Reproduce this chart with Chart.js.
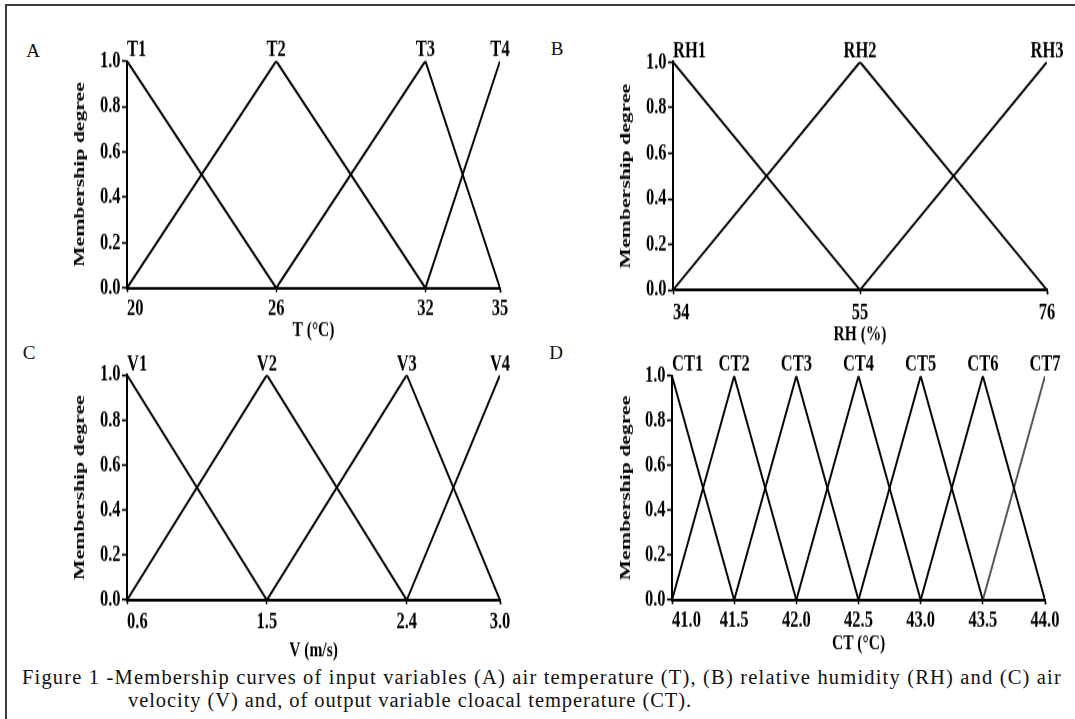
<!DOCTYPE html>
<html lang="en">
<head>
  <meta charset="UTF-8">
  <title>Membership curves</title>
  <style>
    body {
      margin: 0;
      background: #fff;
    }
    #page {
      position: relative;
      width: 1075px;
      height: 719px;
      overflow: hidden;
      background: #fff;
      font-family: 'Liberation Serif', 'Times New Roman', serif;
      color: #111;
    }
    #frame {
      position: absolute;
      left: 5px;
      top: 4px;
      right: -10px;
      bottom: -10px;
      border-top: 2px solid #3c3c3c;
      border-left: 2px solid #3c3c3c;
    }
    .panel {
      position: absolute;
      transform-origin: 0 0;
    }
    .panel canvas {
      display: block;
    }
    .letter {
      position: absolute;
      font-size: 19px;
      line-height: 1;
      transform: translate(-50%, -50%);
    }
    .caption {
      position: absolute;
      font-size: 20.5px;
      line-height: 1;
      white-space: nowrap;
      transform: translateY(-50%);
    }
  </style>
</head>
<body>
  <div id="page">
    <div id="frame"></div>
    <div class="letter" style="left:33px; top:50px;">A</div>
    <div class="letter" style="left:557px; top:48px;">B</div>
    <div class="letter" style="left:29px; top:352px;">C</div>
    <div class="letter" style="left:556px; top:352px;">D</div>

    <div class="panel" id="boxA"><canvas id="chartA"></canvas></div>
    <div class="panel" id="boxB"><canvas id="chartB"></canvas></div>
    <div class="panel" id="boxC"><canvas id="chartC"></canvas></div>
    <div class="panel" id="boxD"><canvas id="chartD"></canvas></div>

    <div class="caption" id="cap1" style="left:22px; top:677px;">Figure 1 -Membership curves of input variables (A) air temperature (T), (B) relative humidity (RH) and (C) air</div>
    <div class="caption" id="cap2" style="left:128px; top:700px;">velocity (V) and, of output variable cloacal temperature (CT).</div>
  </div>

  <script src="https://cdn.jsdelivr.net/npm/chart.js@4.4.3/dist/chart.umd.min.js"></script>
  <script>
    // y axis shared by all four panels
    const degreeTicks = [0, 0.2, 0.4, 0.6, 0.8, 1.0];
    const degreeLabels = ['0.0', '0.2', '0.4', '0.6', '0.8', '1.0'];

    // (A) air temperature
    const tempNames = ['T1', 'T2', 'T3', 'T4'];
    const tempX = [[20, 26], [20, 26, 32], [26, 32, 35], [32, 35]];
    const tempY = [[1, 0], [0, 1, 0], [0, 1, 0], [0, 1]];
    const tempTicks = [20, 26, 32, 35];
    const tempTickLabels = ['20', '26', '32', '35'];

    // (B) relative humidity
    const rhNames = ['RH1', 'RH2', 'RH3'];
    const rhX = [[34, 55], [34, 55, 76], [55, 76]];
    const rhY = [[1, 0], [0, 1, 0], [0, 1]];
    const rhTicks = [34, 55, 76];
    const rhTickLabels = ['34', '55', '76'];

    // (C) air velocity
    const velNames = ['V1', 'V2', 'V3', 'V4'];
    const velX = [[0.6, 1.5], [0.6, 1.5, 2.4], [1.5, 2.4, 3.0], [2.4, 3.0]];
    const velY = [[1, 0], [0, 1, 0], [0, 1, 0], [0, 1]];
    const velTicks = [0.6, 1.5, 2.4, 3.0];
    const velTickLabels = ['0.6', '1.5', '2.4', '3.0'];

    // (D) cloacal temperature
    const ctNames = ['CT1', 'CT2', 'CT3', 'CT4', 'CT5', 'CT6', 'CT7'];
    const ctX = [[41.0, 41.5], [41.0, 41.5, 42.0], [41.5, 42.0, 42.5], [42.0, 42.5, 43.0],
                 [42.5, 43.0, 43.5], [43.0, 43.5, 44.0], [43.5, 44.0]];
    const ctY = [[1, 0], [0, 1, 0], [0, 1, 0], [0, 1, 0], [0, 1, 0], [0, 1, 0], [0, 1]];
    const ctTicks = [41.0, 41.5, 42.0, 42.5, 43.0, 43.5, 44.0];
    const ctTickLabels = ['41.0', '41.5', '42.0', '42.5', '43.0', '43.5', '44.0'];

    // the scanned figure is stretched vertically, so each panel is drawn squat and scaled up
    const STRETCH = 1.4;
    const FONT = "'Liberation Serif', 'Times New Roman', serif";
    const TICK_SIZE = 16.5;
    const TITLE_SIZE = 15.5;

    // names above each peak
    const peakLabels = {
      id: 'peakLabels',
      afterDatasetsDraw(chart, args, opts) {
        const { ctx, scales: { x, y } } = chart;
        ctx.save();
        ctx.font = `bold ${TICK_SIZE}px ${FONT}`;
        ctx.fillStyle = '#000';
        ctx.textBaseline = 'middle';
        chart.data.datasets.forEach(ds => {
          const peak = ds.data.find(pt => pt.y === 1);
          ctx.textAlign = peak.x === x.min ? 'left' : 'center';
          ctx.fillText(ds.label, x.getPixelForValue(peak.x), y.getPixelForValue(1) - opts.offset);
        });
        ctx.restore();
      }
    };

    function buildPanel(p) {
      const pageBottom = p.yBottom + p.titleOff + 12;
      const ch = Math.round((pageBottom - p.top) / STRETCH);

      const box = document.getElementById(p.box);
      box.style.left = p.left + 'px';
      box.style.top = p.top + 'px';
      box.style.width = p.width + 'px';
      box.style.height = ch + 'px';
      box.style.transform = `scaleY(${STRETCH})`;

      const canvas = box.querySelector('canvas');
      canvas.width = p.width;
      canvas.height = ch;
      canvas.style.width = p.width + 'px';
      canvas.style.height = ch + 'px';

      const padTop = (p.yTop - p.top) / STRETCH;
      const plotBottom = (p.yBottom - p.top) / STRETCH;
      const xAxisH = ch - plotBottom;
      const lh = TICK_SIZE * 1.2;
      const xTickPad = p.tickOff / STRETCH - 3 - lh / 2;
      const titlePadB = ch - (plotBottom + p.titleOff / STRETCH) - TITLE_SIZE * 0.6;
      const xMin = p.ticks[0];
      const xMax = p.ticks[p.ticks.length - 1];
      const tickFont = { family: FONT, size: TICK_SIZE, weight: 'bold' };
      const titleFont = { family: FONT, size: TITLE_SIZE, weight: 'bold' };

      const datasets = p.names.map((name, i) => ({
        label: name,
        data: p.xs[i].map((v, j) => ({ x: v, y: p.ys[i][j] })),
        borderColor: (p.colors && p.colors[i]) || '#000',
        borderWidth: 1.9,
        pointRadius: 0,
        tension: 0,
        fill: false
      }));

      return new Chart(canvas, {
        type: 'line',
        data: { datasets },
        options: {
          responsive: false,
          devicePixelRatio: 1,
          animation: false,
          layout: {
            autoPadding: false,
            padding: { left: 0, top: padTop, right: p.left + p.width - p.x1, bottom: 0 }
          },
          plugins: {
            legend: { display: false },
            tooltip: { enabled: false },
            peakLabels: { offset: 11 / STRETCH }
          },
          scales: {
            x: {
              type: 'linear',
              min: xMin,
              max: xMax,
              // extra empty tick at the end keeps the real last label centred under 'inner' align
              afterBuildTicks: s => { s.ticks = p.ticks.map(v => ({ value: v })).concat([{ value: xMax }]); },
              afterFit: s => { s.height = xAxisH; },
              ticks: {
                autoSkip: false,
                maxRotation: 0,
                align: 'inner',
                padding: xTickPad,
                font: tickFont,
                color: '#000',
                callback: (v, i) => p.tickLabels[i] ?? ''
              },
              grid: { drawOnChartArea: false, tickLength: 3, tickColor: '#000', tickWidth: 1.5 },
              border: { display: true, color: '#000', width: 2 },
              title: {
                display: true,
                text: p.xTitle,
                font: titleFont,
                color: '#000',
                padding: { top: 0, bottom: titlePadB }
              }
            },
            y: {
              type: 'linear',
              min: 0,
              max: 1,
              afterBuildTicks: s => { s.ticks = degreeTicks.map(v => ({ value: v })); },
              afterFit: s => { s.width = p.x0 - p.left; },
              ticks: {
                padding: 1.5,
                font: tickFont,
                color: '#000',
                callback: (v, i) => degreeLabels[i]
              },
              grid: { drawOnChartArea: false, tickLength: 5, tickColor: '#000', tickWidth: 1.5 },
              border: { display: true, color: '#000', width: 2 },
              title: {
                display: true,
                text: 'Membership degree',
                font: titleFont,
                color: '#000',
                padding: { top: p.yTitleX - p.left - TITLE_SIZE * 0.6, bottom: 0 }
              }
            }
          }
        },
        plugins: [peakLabels]
      });
    }

    buildPanel({
      box: 'boxA', left: 50, top: 14, width: 490,
      x0: 127, x1: 500, yTop: 61, yBottom: 288, tickOff: 21, titleOff: 43, yTitleX: 80,
      names: tempNames, xs: tempX, ys: tempY, ticks: tempTicks, tickLabels: tempTickLabels,
      xTitle: 'T (°C)'
    });

    buildPanel({
      box: 'boxB', left: 595, top: 14, width: 480,
      x0: 673, x1: 1047, yTop: 62, yBottom: 290, tickOff: 23, titleOff: 44, yTitleX: 626,
      names: rhNames, xs: rhX, ys: rhY, ticks: rhTicks, tickLabels: rhTickLabels,
      xTitle: 'RH (%)'
    });

    buildPanel({
      box: 'boxC', left: 50, top: 330, width: 490,
      x0: 127, x1: 500, yTop: 375, yBottom: 600, tickOff: 22, titleOff: 50, yTitleX: 80,
      names: velNames, xs: velX, ys: velY, ticks: velTicks, tickLabels: velTickLabels,
      xTitle: 'V (m/s)'
    });

    buildPanel({
      box: 'boxD', left: 595, top: 330, width: 480,
      x0: 672, x1: 1045, yTop: 376, yBottom: 600, tickOff: 21, titleOff: 43, yTitleX: 626,
      names: ctNames, xs: ctX, ys: ctY, ticks: ctTicks, tickLabels: ctTickLabels,
      colors: ['#000', '#000', '#000', '#000', '#000', '#000', '#555'],
      xTitle: 'CT (°C)'
    });

    // the printed caption is spread out to the full text width
    function fitLine(id, target) {
      const el = document.getElementById(id);
      const n = el.textContent.length;
      const w = el.getBoundingClientRect().width;
      el.style.letterSpacing = ((target - w) / n) + 'px';
    }
    fitLine('cap1', 1040);
    fitLine('cap2', 564);
  </script>
</body>
</html>
